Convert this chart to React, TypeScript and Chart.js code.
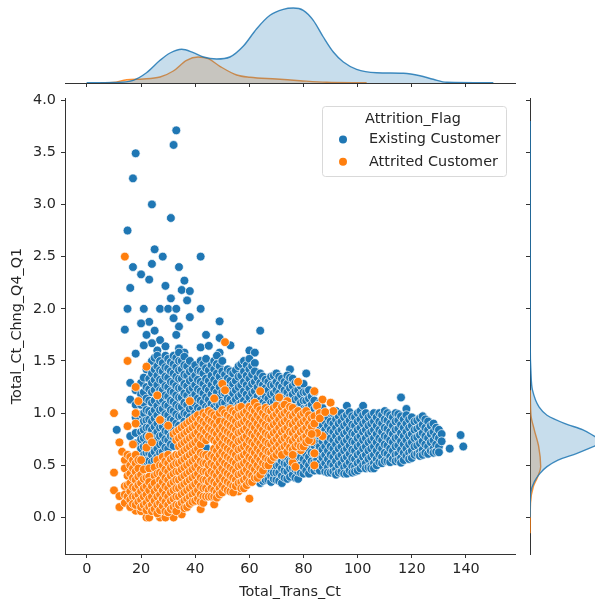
import React, { useEffect, useRef } from "react";
import { Chart, registerables } from "chart.js";

Chart.register(...registerables);

const BLUE = "#1f77b4";
const ORANGE = "#ff7f0e";
const FONT = "DejaVu Sans";

const seriesNames = ["Existing Customer", "Attrited Customer"];
const legendTitle = "Attrition_Flag";
const xLabel = "Total_Trans_Ct";
const yLabel = "Total_Ct_Chng_Q4_Q1";

// Isolated points: [Total_Trans_Ct, Total_Ct_Chng_Q4_Q1]
const existingSparse: [number, number][] = [
  [33,3.71],[32,3.57],[18,3.49],[17,3.25],[24,3.0],[31,2.87],[15,2.75],[25,2.57],[28,2.5],[42,2.5],[17,2.4],[24,2.43],[34,2.4],[20,2.33],[23,2.28],[36,2.27],[16,2.2],[29,2.22],[35,2.18],[38,2.17],[31,2.1],[37,2.08],[15,2.0],[21,2.0],[27,2.0],[30,2.0],[33,2.0],[42,2.0],[32,1.91],[38,1.92],[23,1.875],[20,1.86],[49,1.88],[34,1.83],[14,1.8],[25,1.79],[64,1.79],[33,1.75],[44,1.75],[22,1.75],[49,1.72],[53,1.65],[27,1.7],[24,1.67],[21,1.65],[29,1.64],[18,1.57],[42,1.63],[45,1.645],[26,1.6],[34,1.62],[36,1.58],[49,1.58],[60,1.6],[62,1.58],[75,1.42],[81,1.38],[11,0.84],[116,1.15],[118,1.04],[139,0.68],[138,0.79],[134,0.66],
];

// Dense cloud, column by column: [Total_Trans_Ct, Total_Ct_Chng_Q4_Q1 values]
const existingColumns: [number, number[]][] = [
  [16,[1.29,1.13,0.78]],
  [18,[1.22,1.08,0.96,0.81,0.71,0.58,0.47]],
  [20,[1.29,1.18,1.08,0.99,0.9,0.82,0.75,0.66,0.57,0.47,0.36]],
  [21,[1.34,1.2,1.1,1.0,0.92,0.84,0.76,0.68,0.6,0.52]],
  [22,[1.42,1.25,1.14,1.03,0.93,0.86,0.78,0.7,0.62,0.54,0.46,0.33]],
  [23,[1.46,1.33,1.23,1.12,1.02,0.94,0.86,0.78,0.7,0.62,0.54]],
  [24,[1.5,1.38,1.29,1.2,1.1,1.0,0.92,0.84,0.76,0.68,0.6,0.53,0.45,0.38]],
  [25,[1.53,1.42,1.32,1.22,1.12,1.03,0.95,0.87,0.79,0.71,0.63,0.55]],
  [26,[1.55,1.45,1.36,1.27,1.17,1.07,0.98,0.9,0.82,0.74,0.66,0.58,0.5,0.43,0.33]],
  [27,[1.5,1.41,1.32,1.22,1.12,1.03,0.94,0.86,0.78,0.7,0.62,0.54]],
  [28,[1.48,1.4,1.31,1.22,1.13,1.04,0.95,0.87,0.79,0.71,0.63,0.55,0.47]],
  [29,[1.55,1.44,1.35,1.26,1.17,1.08,0.99,0.91,0.83,0.75,0.67,0.59]],
  [30,[1.52,1.43,1.34,1.25,1.16,1.07,0.98,0.9,0.82,0.74,0.66,0.58]],
  [31,[1.49,1.4,1.3,1.21,1.12,1.03,0.94,0.86,0.78,0.7]],
  [32,[1.55,1.47,1.38,1.29,1.2,1.11,1.02,0.93,0.85,0.77,0.685]],
  [33,[1.53,1.44,1.35,1.26,1.17,1.08,0.99,0.9]],
  [34,[1.58,1.5,1.41,1.33,1.24,1.15,1.06,0.97,0.88]],
  [35,[1.5,1.42,1.33,1.24,1.15,1.06,0.97]],
  [36,[1.54,1.46,1.37,1.28,1.19,1.1,1.0,0.92]],
  [37,[1.45,1.36,1.26,1.17,1.08,0.99]],
  [38,[1.5,1.4,1.31,1.22,1.13,1.04,0.96]],
  [39,[1.42,1.33,1.24,1.15,1.06]],
  [40,[1.46,1.36,1.27,1.18,1.09,1.0]],
  [41,[1.41,1.32,1.23,1.14,1.05]],
  [42,[1.5,1.4,1.3,1.21,1.12,1.03]],
  [43,[1.47,1.38,1.28,1.19,1.1]],
  [44,[1.52,1.43,1.33,1.24,1.15,1.06,0.67]],
  [45,[1.41,1.31,1.22,1.13,1.05]],
  [46,[1.46,1.36,1.27,1.18,1.09,1.02]],
  [47,[1.5,1.42,1.32,1.23,1.14,1.06]],
  [48,[1.55,1.47,1.38,1.29,1.2,1.1,1.03]],
  [49,[1.45,1.35,1.25,1.15,1.07]],
  [50,[1.5,1.4,1.3,1.2,1.1,0.965]],
  [51,[1.37,1.28,1.19,1.1]],
  [52,[1.42,1.33,1.24,1.14,1.05]],
  [53,[1.4,1.31,1.22,1.13,1.06]],
  [54,[1.38,1.28,1.19,1.1,1.02]],
  [55,[1.41,1.31,1.22,1.13,1.05]],
  [56,[1.45,1.35,1.25,1.16,1.08]],
  [57,[1.47,1.36,1.27,1.18,1.1]],
  [58,[1.5,1.4,1.3,1.21,1.12,1.04]],
  [59,[1.46,1.36,1.27,1.18,1.09]],
  [60,[1.52,1.42,1.33,1.24,1.15,1.07]],
  [61,[1.45,1.37,1.28,1.19,1.1]],
  [62,[1.48,1.4,1.3,1.21,1.13,1.05]],
  [63,[1.34,1.25,1.16,1.08]],
  [64,[1.38,1.29,1.2,1.12,1.05,0.33,0.38]],
  [65,[1.35,1.27,1.18,1.1,1.03,0.35,0.41]],
  [66,[1.32,1.24,1.16,1.08,1.0,0.36,0.42,0.48]],
  [67,[1.3,1.22,1.14,1.06,0.36,0.44,0.5]],
  [68,[1.35,1.27,1.18,1.1,1.03,0.34,0.4,0.46,0.52]],
  [69,[1.36,1.27,1.19,1.11,0.37,0.43,0.5,0.56]],
  [70,[1.38,1.3,1.22,1.14,1.06,0.36,0.43,0.5,0.57]],
  [71,[1.35,1.27,1.19,1.11,0.35,0.43,0.5,0.57]],
  [72,[1.33,1.25,1.17,1.09,0.33,0.4,0.47,0.54,0.6]],
  [73,[1.3,1.22,1.14,1.06,0.38,0.45,0.52,0.58]],
  [74,[1.36,1.28,1.2,1.12,1.04,0.37,0.44,0.51,0.58]],
  [75,[1.34,1.24,1.16,1.08,0.39,0.47,0.54]],
  [76,[1.33,1.26,1.18,1.1,1.02,0.41,0.48,0.55]],
  [77,[1.29,1.21,1.13,1.05,0.38,0.46,0.53,0.6]],
  [78,[1.3,1.22,1.14,1.06,0.98,0.37,0.44,0.51,0.58]],
  [79,[1.26,1.18,1.1,1.02,0.43,0.5,0.58]],
  [80,[1.28,1.2,1.12,1.04,0.96,0.42,0.49,0.56,0.64]],
  [81,[1.2,1.12,1.04,0.96,0.45,0.53,0.61,0.69]],
  [82,[1.22,1.14,1.06,0.98,0.9,0.42,0.5,0.58,0.66,0.74]],
  [83,[1.16,1.08,1.0,0.92,0.46,0.54,0.62,0.7]],
  [84,[1.2,1.12,1.04,0.96,0.88,0.45,0.53,0.61,0.69,0.77]],
  [85,[1.06,0.98,0.9,0.82,0.47,0.55,0.63,0.71]],
  [86,[1.1,1.02,0.94,0.86,0.78,0.45,0.52,0.6,0.68]],
  [87,[1.05,0.97,0.89,0.81,0.73,0.65,0.57,0.49]],
  [88,[1.0,0.92,0.84,0.76,0.68,0.6,0.52,0.44]],
  [89,[0.96,0.88,0.8,0.72,0.64,0.56,0.48,0.43]],
  [90,[1.0,0.92,0.84,0.76,0.68,0.6,0.52,0.43]],
  [91,[1.0,0.9,0.82,0.74,0.66,0.58,0.5,0.44]],
  [92,[1.02,0.94,0.86,0.78,0.7,0.62,0.54,0.46,0.41]],
  [93,[0.97,0.9,0.82,0.74,0.66,0.58,0.5,0.43]],
  [94,[1.0,0.92,0.84,0.76,0.68,0.6,0.52,0.44]],
  [95,[0.96,0.88,0.8,0.72,0.64,0.56,0.48,0.42]],
  [96,[1.07,0.98,0.9,0.82,0.74,0.66,0.58,0.5,0.42]],
  [97,[1.01,0.93,0.85,0.77,0.69,0.61,0.53,0.45]],
  [98,[0.97,0.89,0.81,0.73,0.65,0.57,0.49,0.43]],
  [99,[0.96,0.88,0.8,0.72,0.64,0.56,0.48,0.44]],
  [100,[1.0,0.92,0.84,0.76,0.68,0.6,0.52,0.45]],
  [101,[1.02,0.94,0.86,0.78,0.7,0.62,0.54,0.47]],
  [102,[1.07,0.98,0.9,0.82,0.74,0.66,0.58,0.5]],
  [103,[1.0,0.92,0.84,0.76,0.68,0.6,0.52,0.47]],
  [104,[0.96,0.88,0.8,0.72,0.64,0.56,0.48]],
  [105,[0.98,0.9,0.82,0.74,0.66,0.58,0.5,0.47]],
  [106,[1.0,0.92,0.84,0.76,0.68,0.6,0.52,0.47]],
  [107,[0.96,0.88,0.8,0.72,0.64,0.56,0.5]],
  [108,[1.0,0.92,0.84,0.76,0.68,0.6,0.53]],
  [109,[0.98,0.9,0.82,0.74,0.66,0.58,0.52]],
  [110,[1.02,0.94,0.86,0.78,0.7,0.62,0.54]],
  [111,[1.0,0.93,0.85,0.77,0.69,0.61,0.54]],
  [112,[0.98,0.9,0.82,0.74,0.66,0.58,0.53]],
  [113,[0.96,0.88,0.8,0.72,0.64,0.56]],
  [114,[1.0,0.92,0.84,0.76,0.68,0.6,0.54]],
  [115,[0.99,0.93,0.85,0.77,0.69,0.61,0.55]],
  [116,[0.97,0.89,0.81,0.73,0.65,0.57,0.525]],
  [117,[0.94,0.86,0.78,0.7,0.62,0.55]],
  [118,[0.98,0.9,0.82,0.74,0.66,0.59]],
  [119,[0.94,0.86,0.78,0.7,0.62,0.56]],
  [120,[0.96,0.88,0.8,0.72,0.64,0.57]],
  [121,[0.92,0.84,0.76,0.68,0.6]],
  [122,[0.93,0.85,0.77,0.69,0.61]],
  [123,[0.95,0.87,0.79,0.71,0.63,0.59]],
  [124,[0.97,0.89,0.81,0.73,0.65,0.6]],
  [125,[0.94,0.86,0.78,0.7,0.62]],
  [126,[0.92,0.84,0.76,0.68,0.61]],
  [127,[0.88,0.8,0.72,0.64]],
  [128,[0.9,0.82,0.74,0.66,0.62]],
  [129,[0.86,0.78,0.7,0.63]],
  [130,[0.84,0.76,0.68,0.625]],
  [131,[0.8,0.73]],
];

const attritedSparse: [number, number][] = [
  [14,2.5],[51,1.68],[15,1.5],[22,1.445],[18,1.25],[50,1.28],[51,1.22],[78,1.3],[84,1.21],[87,1.13],[90,1.1],[91,1.02],[85,1.07],[64,1.21],[71,1.15],[74,1.115],[38,1.115],[47,1.14],[26,1.17],[19,1.115],[18,1.0],[10,1.0],[15,0.875],[12,0.72],[13,0.63],[10,0.43],[10,0.26],[12,0.205],[12,0.1],[27,0.935],[30,0.88],[60,0.18],[56,0.25],[47,0.125],[42,0.08],[29,0.08],[18,0.065],[20,0.06],[22,0],[23,0],[27,0],[29,0],[32,0],[35,0.03],[84,0.5],[84,0.615],[76,0.525],[77,0.485],[73,0.63],[79,0.645],[87,0.78],[85,0.81],[83,0.73],[18,0.9],[23,0.775],[17,0.7],
];

const attritedColumns: [number, number[]][] = [
  [14,[0.55,0.47,0.3,0.22,0.14]],
  [15,[0.6,0.4,0.31,0.2]],
  [16,[0.58,0.5,0.42,0.33,0.25,0.17,0.1]],
  [17,[0.55,0.47,0.38,0.29,0.2,0.13]],
  [18,[0.6,0.52,0.44,0.36,0.28,0.2,0.12]],
  [19,[0.55,0.47,0.39,0.31,0.22,0.15]],
  [20,[0.55,0.41,0.33,0.25,0.17,0.1]],
  [21,[0.46,0.37,0.28,0.2,0.12]],
  [22,[0.67,0.38,0.3,0.22,0.14,0.07]],
  [23,[0.47,0.39,0.34,0.26,0.18,0.1]],
  [24,[0.72,0.3,0.2,0.12,0.06]],
  [25,[0.48,0.4,0.33,0.25,0.16,0.08]],
  [26,[0.55,0.42,0.28,0.2,0.12,0.04]],
  [27,[0.5,0.43,0.36,0.3,0.22,0.14,0.07]],
  [28,[0.58,0.5,0.42,0.34,0.26,0.18,0.11]],
  [29,[0.54,0.46,0.38,0.3,0.22,0.15,0.06]],
  [30,[0.6,0.52,0.44,0.36,0.28,0.2,0.12,0.05]],
  [31,[0.56,0.48,0.4,0.32,0.24,0.16,0.08]],
  [32,[0.8,0.58,0.5,0.42,0.34,0.26,0.18,0.1]],
  [33,[0.82,0.74,0.6,0.52,0.44,0.36,0.28,0.2,0.12,0.06]],
  [34,[0.84,0.76,0.68,0.6,0.52,0.44,0.36,0.28,0.2,0.12]],
  [35,[0.86,0.78,0.7,0.62,0.54,0.46,0.38,0.3,0.22,0.14]],
  [36,[0.88,0.8,0.72,0.64,0.56,0.48,0.4,0.32,0.24,0.16,0.09]],
  [37,[0.9,0.82,0.74,0.66,0.58,0.5,0.42,0.34,0.26,0.18,0.1]],
  [38,[0.92,0.84,0.76,0.68,0.6,0.52,0.44,0.36,0.28,0.2,0.13]],
  [39,[0.94,0.86,0.78,0.7,0.62,0.54,0.46,0.38,0.3,0.22,0.15]],
  [40,[0.96,0.88,0.8,0.72,0.64,0.56,0.48,0.4,0.32,0.24,0.16]],
  [41,[0.98,0.9,0.82,0.74,0.66,0.58,0.5,0.42,0.34,0.26,0.18]],
  [42,[0.94,0.86,0.78,0.7,0.62,0.54,0.46,0.38,0.3,0.22,0.15]],
  [43,[1.0,0.92,0.84,0.76,0.6,0.52,0.44,0.36,0.28,0.2,0.14]],
  [44,[0.98,0.9,0.82,0.74,0.6,0.52,0.44,0.36,0.28,0.2]],
  [45,[1.02,0.94,0.86,0.78,0.58,0.5,0.42,0.34,0.26,0.2]],
  [46,[1.0,0.92,0.84,0.76,0.6,0.52,0.44,0.36,0.28,0.2]],
  [47,[0.98,0.9,0.82,0.74,0.66,0.58,0.5,0.42,0.34,0.26,0.2]],
  [48,[0.96,0.88,0.8,0.72,0.64,0.56,0.48,0.4,0.32,0.24,0.19]],
  [49,[1.0,0.92,0.84,0.76,0.68,0.6,0.52,0.44,0.36,0.28,0.22]],
  [50,[1.03,0.87,0.79,0.71,0.63,0.55,0.47,0.39,0.31,0.24]],
  [51,[1.0,0.92,0.84,0.76,0.68,0.6,0.52,0.44,0.36,0.28]],
  [52,[0.98,0.9,0.82,0.74,0.66,0.58,0.5,0.42,0.34,0.26]],
  [53,[1.04,0.96,0.88,0.8,0.72,0.64,0.56,0.48,0.4,0.32,0.25]],
  [54,[1.02,0.94,0.86,0.78,0.7,0.62,0.54,0.46,0.38,0.3,0.24]],
  [55,[1.0,0.92,0.84,0.76,0.68,0.6,0.52,0.44,0.36,0.3]],
  [56,[1.05,0.97,0.89,0.81,0.73,0.65,0.57,0.49,0.41,0.33]],
  [57,[1.06,0.98,0.9,0.82,0.74,0.66,0.58,0.5,0.42,0.34,0.28]],
  [58,[1.0,0.92,0.84,0.76,0.68,0.6,0.52,0.44,0.36,0.28]],
  [59,[1.02,0.94,0.86,0.78,0.7,0.62,0.54,0.46,0.38,0.31]],
  [60,[1.06,0.98,0.9,0.82,0.74,0.66,0.58,0.5,0.42,0.34]],
  [61,[1.04,0.96,0.88,0.8,0.72,0.64,0.56,0.48,0.4,0.34]],
  [62,[1.1,1.02,0.94,0.86,0.78,0.7,0.62,0.54,0.46,0.38]],
  [63,[1.06,0.98,0.9,0.82,0.74,0.66,0.58,0.5,0.42,0.38]],
  [64,[1.03,0.95,0.87,0.79,0.71,0.63,0.55,0.47,0.41]],
  [65,[1.0,0.92,0.84,0.76,0.68,0.6,0.52,0.45]],
  [66,[1.05,0.97,0.89,0.81,0.73,0.65,0.57,0.5]],
  [67,[1.03,0.95,0.87,0.79,0.71,0.63,0.55,0.5]],
  [68,[1.02,0.94,0.86,0.78,0.7,0.62,0.55]],
  [69,[1.05,0.97,0.89,0.81,0.73,0.65,0.58]],
  [70,[1.07,0.99,0.91,0.83,0.75,0.67,0.6]],
  [71,[1.02,0.94,0.86,0.78,0.7,0.63]],
  [72,[1.06,0.98,0.9,0.82,0.74,0.66,0.6]],
  [73,[1.08,1.0,0.92,0.84,0.76,0.68]],
  [74,[1.02,0.94,0.86,0.78,0.7,0.63]],
  [75,[1.06,0.98,0.9,0.82,0.74,0.67]],
  [76,[1.05,0.97,0.89,0.81,0.73,0.65,0.6]],
  [77,[1.0,0.92,0.84,0.76,0.68]],
  [78,[1.02,0.94,0.86,0.78,0.7]],
  [79,[0.98,0.9,0.82,0.74,0.68]],
  [80,[1.0,0.92,0.84,0.76,0.68]],
  [81,[1.02,0.94,0.86,0.78,0.72]],
  [82,[0.98,0.9,0.82,0.74]],
  [83,[0.95,0.87,0.8]],
  [84,[0.97,0.9]],
  [86,[1.0,0.95]],
  [88,[1.01]],
];

// Marginal density curves (relative height)
const topExistingX = [-0.1,9.7,17.1,22,27,30.7,35,39.3,43,47.9,52.8,57.8,62.7,67.6,72.5,76.2,79.9,83.6,87.3,91,94.7,99.6,107,116.9,123,127.9,132.9,150.1];
const topExistingH = [0.2,0.5,2.7,10.3,22.7,30,33.7,30.3,26,24,26,37,54.3,67.7,73.7,75,72.7,62.7,46,31,21,13.7,10.3,9.7,7.3,3.7,0.7,0.2];
const topAttritedX = [5,9.7,14.7,20.8,27,31.9,36.8,41.1,44.8,49.1,55.3,60.2,70,78.7,88.5,103.3];
const topAttritedH = [0.1,0.5,3.3,4,6,12,22.7,26,24.3,16.7,8,5.7,4,2.3,0.7,0.2];

const rightExistingY = [3.8,1.67,1.38,1.22,1.06,0.98,0.9,0.84,0.775,0.726,0.685,0.615,0.55,0.487,0.423,0.343,0.232,0];
const rightExistingH = [0.2,0.2,1,2.5,9,17,35,53,65,75,65,47,28,17,10,4.3,0.7,0.1];
const rightAttritedY = [1.22,0.98,0.84,0.68,0.487,0.39,0.295,0.136,-0.15];
const rightAttritedH = [0.3,1,4.3,8.7,10.7,7.7,3.3,0.5,0.1];

const toPoints = (sparse: [number, number][], columns: [number, number[]][]) => [
  ...sparse.map(([x, y]) => ({ x, y })),
  ...columns.flatMap(([x, ys]) => ys.map((y) => ({ x, y }))),
];
const zip = (xs: number[], ys: number[]) => xs.map((x, i) => ({ x, y: ys[i] }));

const X_MIN = -8.1, X_MAX = 158.1, Y_MIN = -0.35, Y_MAX = 4.02;
const W = 595, H = 604;
const AXIS = "#333333";
const TEXT = "#262626";
const FONT_SIZE = 14.4;

const axisBase = {
  border: { display: true, color: AXIS, width: 1 },
  grid: { drawOnChartArea: false, drawTicks: true, tickLength: 4, tickColor: AXIS, tickWidth: 1 },
};

const legendPlugin = {
  id: "jointLegend",
  afterDraw(chart: any) {
    const ctx = chart.ctx;
    ctx.save();
    ctx.beginPath();
    ctx.roundRect(322.5, 106.5, 184, 70, 3);
    ctx.fillStyle = "rgba(255,255,255,0.8)";
    ctx.fill();
    ctx.strokeStyle = "#d9d9d9";
    ctx.lineWidth = 1;
    ctx.stroke();
    ctx.font = `${FONT_SIZE}px "${FONT}"`;
    ctx.textBaseline = "middle";
    ctx.fillStyle = TEXT;
    ctx.textAlign = "center";
    ctx.fillText(legendTitle, 413, 119);
    ctx.textAlign = "left";
    [BLUE, ORANGE].forEach((c, i) => {
      const y = 139.5 + i * 22.3;
      ctx.beginPath();
      ctx.arc(343, y, 4, 0, Math.PI * 2);
      ctx.fillStyle = c;
      ctx.fill();
      ctx.fillStyle = TEXT;
      ctx.fillText(seriesNames[i], 369, y);
    });
    ctx.restore();
  },
};

export default function App() {
  const mainRef = useRef<HTMLCanvasElement>(null);
  const topRef = useRef<HTMLCanvasElement>(null);
  const rightRef = useRef<HTMLCanvasElement>(null);

  useEffect(() => {
    const tickFont = { family: FONT, size: FONT_SIZE };
    const main = new Chart(mainRef.current!, {
      type: "scatter",
      data: {
        datasets: [
          { label: seriesNames[0], data: toPoints(existingSparse, existingColumns), backgroundColor: BLUE, borderColor: "#ffffff", borderWidth: 0.7, pointRadius: 4.4, order: 2 },
          { label: seriesNames[1], data: toPoints(attritedSparse, attritedColumns), backgroundColor: ORANGE, borderColor: "#ffffff", borderWidth: 0.7, pointRadius: 4.4, order: 1 },
        ],
      },
      options: {
        responsive: false,
        animation: false,
        layout: { padding: { top: 98, right: 80, left: 0, bottom: 0 } },
        plugins: { legend: { display: false }, tooltip: { enabled: false } },
        scales: {
          x: {
            ...axisBase,
            type: "linear",
            min: X_MIN,
            max: X_MAX,
            afterFit: (s: any) => { s.height = 50; },
            ticks: { stepSize: 20, includeBounds: false, font: tickFont, color: TEXT, padding: 3, maxRotation: 0, callback: (v: any) => (v > 140 ? "" : String(v)) },
            title: { display: true, text: xLabel, font: { family: FONT, size: FONT_SIZE }, color: TEXT, padding: { top: 0, bottom: 3.4 } },
          },
          y: {
            ...axisBase,
            type: "linear",
            min: Y_MIN,
            max: Y_MAX,
            afterFit: (s: any) => { s.width = 65; },
            ticks: { stepSize: 0.5, includeBounds: false, font: tickFont, color: TEXT, padding: 5, callback: (v: any) => Number(v).toFixed(1) },
            title: { display: true, text: yLabel, font: { family: FONT, size: FONT_SIZE }, color: TEXT, padding: { top: 8.4, bottom: 0 } },
          },
        },
      } as any,
      plugins: [legendPlugin],
    } as any);

    const curve = (color: string, fill: string, data: any[], order: number) => ({
      data, borderColor: color, backgroundColor: fill, borderWidth: 1.4, pointRadius: 0, fill: "origin",
      cubicInterpolationMode: "monotone", order,
    });

    const top = new Chart(topRef.current!, {
      type: "line",
      data: {
        datasets: [
          curve("rgba(31,119,180,0.85)", "rgba(31,119,180,0.25)", zip(topExistingX, topExistingH), 1),
          curve("rgba(255,127,14,0.85)", "rgba(255,127,14,0.25)", zip(topAttritedX, topAttritedH), 2),
        ],
      },
      options: {
        responsive: false,
        animation: false,
        layout: { padding: { top: 5, right: 80, left: 65, bottom: 0 } },
        plugins: { legend: { display: false }, tooltip: { enabled: false } },
        scales: {
          x: {
            ...axisBase,
            type: "linear",
            min: X_MIN,
            max: X_MAX,
            afterFit: (s: any) => { s.height = 521; },
            ticks: { stepSize: 20, includeBounds: false, display: false },
          },
          y: { display: false, min: 0, max: 78 },
        },
      } as any,
    } as any);

    const right = new Chart(rightRef.current!, {
      type: "line",
      data: {
        datasets: [
          curve("rgba(31,119,180,0.85)", "rgba(31,119,180,0.25)", zip(rightExistingH, rightExistingY), 1),
          curve("rgba(255,127,14,0.85)", "rgba(255,127,14,0.25)", zip(rightAttritedH, rightAttritedY), 2),
        ],
      },
      options: {
        responsive: false,
        animation: false,
        indexAxis: "y",
        layout: { padding: { top: 98, right: 0, left: 0, bottom: 50 } },
        plugins: { legend: { display: false }, tooltip: { enabled: false } },
        scales: {
          x: { display: false, type: "linear", min: 0, max: 65 },
          y: {
            ...axisBase,
            type: "linear",
            min: Y_MIN,
            max: Y_MAX,
            afterFit: (s: any) => { s.width = 530; },
            ticks: { stepSize: 0.5, includeBounds: false, display: false },
          },
        },
      } as any,
    } as any);

    return () => {
      main.destroy();
      top.destroy();
      right.destroy();
    };
  }, []);

  const layer: React.CSSProperties = { position: "absolute", left: 0, top: 0 };
  return (
    <div style={{ position: "fixed", left: 0, top: 0, width: W, height: H, background: "#fff" }}>
      <canvas ref={mainRef} width={W} height={H} style={layer} />
      <canvas ref={topRef} width={W} height={H} style={layer} />
      <canvas ref={rightRef} width={W} height={H} style={layer} />
    </div>
  );
}
